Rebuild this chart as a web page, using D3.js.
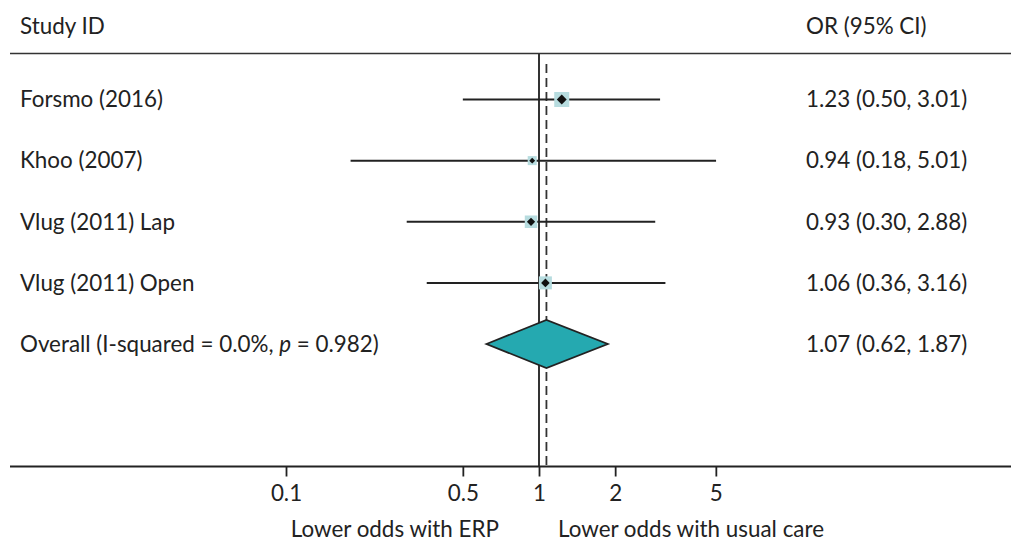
<!DOCTYPE html>
<html>
<head>
<meta charset="utf-8">
<script src="https://cdn.jsdelivr.net/npm/d3@7"></script>
<style>
  html, body { margin: 0; padding: 0; background: #fff; }
  svg { display: block; }
  text { font-family: Lato, "Open Sans", sans-serif; fill: #222; }
</style>
</head>
<body>
<svg id="chart" width="1011" height="542"></svg>
<script>
const studies = ["Forsmo (2016)", "Khoo (2007)", "Vlug (2011) Lap", "Vlug (2011) Open"];
const or = [1.23, 0.94, 0.93, 1.06];
const lower = [0.50, 0.18, 0.30, 0.36];
const upper = [3.01, 5.01, 2.88, 3.16];
const weights = [15, 9, 12.5, 13];
const overall = { label: "Overall (I-squared = 0.0%, ", p: "0.982", or: 1.07, lower: 0.62, upper: 1.87 };
const tickValues = [0.1, 0.5, 1, 2, 5];
const tickLabels = ["0.1", "0.5", "1", "2", "5"];

const FS = 22.4;
const svg = d3.select("#chart");
const x = d3.scaleLog().domain([0.1, 1]).range([286, 539]);
const y = d3.scalePoint().domain(d3.range(5)).range([99.5, 344]);
const axisY = 466.5;
const fmt = v => v.toFixed(2);

// header
svg.append("text").attr("x", 20).attr("y", 34).attr("font-size", FS).text("Study ID");
svg.append("text").attr("x", 806).attr("y", 34).attr("font-size", FS).text("OR (95% CI)");
svg.append("line").attr("x1", 10).attr("x2", 1011).attr("y1", 53.5).attr("y2", 53.5)
  .attr("stroke", "#333").attr("stroke-width", 1.5);

// null line
svg.append("line").attr("x1", x(1)).attr("x2", x(1)).attr("y1", 54).attr("y2", axisY)
  .attr("stroke", "#333").attr("stroke-width", 2);
// overall dashed line
svg.append("line").attr("x1", x(overall.or)).attr("x2", x(overall.or)).attr("y1", 64).attr("y2", axisY)
  .attr("stroke", "#333").attr("stroke-width", 1.8).attr("stroke-dasharray", "9,5");

// study rows
const g = svg.append("g");
studies.forEach((s, i) => {
  const cy = y(i);
  g.append("line").attr("x1", x(lower[i])).attr("x2", x(upper[i])).attr("y1", cy).attr("y2", cy)
    .attr("stroke", "#222").attr("stroke-width", 2);
  const w = weights[i];
  g.append("rect").attr("x", x(or[i]) - w / 2).attr("y", cy - w / 2).attr("width", w).attr("height", w)
    .attr("fill", "#b7dcdf");
  const d = w * 0.33;
  g.append("path")
    .attr("d", `M${x(or[i]) - d},${cy} L${x(or[i])},${cy - d} L${x(or[i]) + d},${cy} L${x(or[i])},${cy + d} Z`)
    .attr("fill", "#111");
  g.append("text").attr("x", 20).attr("y", cy).attr("dy", "0.35em").attr("font-size", FS).text(s);
  g.append("text").attr("x", 806).attr("y", cy).attr("dy", "0.35em").attr("font-size", FS)
    .text(`${fmt(or[i])} (${fmt(lower[i])}, ${fmt(upper[i])})`);
});

// overall diamond
const oy = y(4);
svg.append("path")
  .attr("d", `M${x(overall.lower)},${oy} L${x(overall.or)},${oy - 24} L${x(overall.upper)},${oy} L${x(overall.or)},${oy + 24} Z`)
  .attr("fill", "#25a9b0").attr("stroke", "#222").attr("stroke-width", 1.8);
const ot = svg.append("text").attr("x", 20).attr("y", oy).attr("dy", "0.35em").attr("font-size", FS);
ot.append("tspan").text(overall.label);
ot.append("tspan").attr("font-style", "italic").text("p");
ot.append("tspan").text(" = " + overall.p + ")");
svg.append("text").attr("x", 806).attr("y", oy).attr("dy", "0.35em").attr("font-size", FS)
  .text(`${fmt(overall.or)} (${fmt(overall.lower)}, ${fmt(overall.upper)})`);

// axis
svg.append("line").attr("x1", 10).attr("x2", 1011).attr("y1", axisY).attr("y2", axisY)
  .attr("stroke", "#222").attr("stroke-width", 2);
const axis = d3.axisBottom(x).tickValues(tickValues).tickFormat((d, i) => tickLabels[i]).tickSize(10).tickPadding(9);
const ag = svg.append("g").attr("transform", `translate(0,${axisY})`).call(axis);
ag.select(".domain").remove();
ag.selectAll(".tick line").attr("stroke", "#222").attr("stroke-width", 1.8);
ag.selectAll(".tick text").attr("font-size", FS).attr("fill", "#222")
  .style("font-family", "Lato, 'Open Sans', sans-serif");

svg.append("text").attr("x", x(1) - 40).attr("y", 537).attr("text-anchor", "end").attr("font-size", FS)
  .text("Lower odds with ERP");
svg.append("text").attr("x", x(1) + 19).attr("y", 537).attr("text-anchor", "start").attr("font-size", FS)
  .text("Lower odds with usual care");
</script>
</body>
</html>
